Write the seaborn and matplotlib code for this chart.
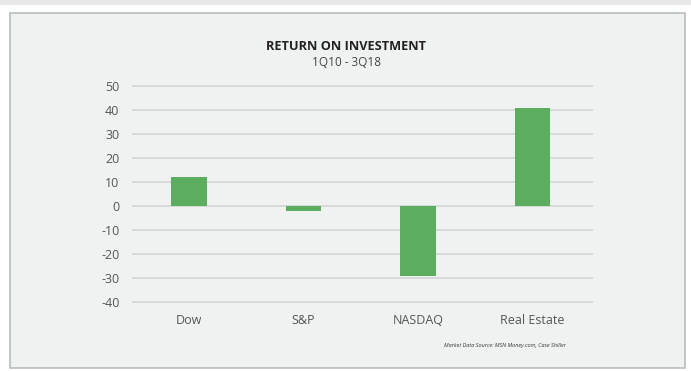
import matplotlib
matplotlib.use("Agg")
import matplotlib.pyplot as plt
import seaborn as sns
import pandas as pd
from matplotlib.patches import Rectangle

categories = ["Dow", "S&P", "NASDAQ", "Real Estate"]
returns = [12, -2, -29.3, 41]
yticks = [-40, -30, -20, -10, 0, 10, 20, 30, 40, 50]

df = pd.DataFrame({"category": categories, "value": returns})

sns.set_theme(style="white")
plt.rcParams["font.family"] = ["Open Sans", "DejaVu Sans"]

bg = "#f0f2f2"
fig = plt.figure(figsize=(6.91, 3.71), dpi=100, facecolor="white")

# frame / panel
fig.patches.append(Rectangle((10/691, 1 - 368/371), (685-10)/691, (368-13)/371,
                             transform=fig.transFigure, facecolor=bg,
                             edgecolor="#b8bcbc", linewidth=1.2, zorder=-2))
fig.patches.append(Rectangle((0, 1 - 5/371), 1, 5/371, transform=fig.transFigure,
                             facecolor="#e6e8e8", edgecolor="none", zorder=-2))

ax = fig.add_axes([132/691, 1 - 303/371, (593-132)/691, (303-85)/371])
ax.set_zorder(2)
ax.set_facecolor(bg)
ax.patch.set_alpha(0)

sns.barplot(data=df, x="category", y="value", color="#5cad5f", width=0.31,
            saturation=1, linewidth=0, ax=ax, zorder=3)

ax.set_yticks(yticks)
ax.set_yticklabels([str(t) for t in yticks])
ax.yaxis.grid(True, color="#d6d8d8", linewidth=1.3)
ax.set_axisbelow(True)
for s in ax.spines.values():
    s.set_visible(False)
ax.tick_params(axis="both", length=0, labelsize=9, colors="#555555")
ax.tick_params(axis="y", pad=9)
ax.tick_params(axis="x", pad=8)
ax.set_xlabel("")
ax.set_ylabel("")
ax.set_xlim(-0.5, 3.53)
ax.set_ylim(-40.6, 50.6)

fig.text(346/691, 1 - 47/371, "RETURN ON INVESTMENT", ha="center", va="center",
         fontsize=9.2, fontweight="bold", color="#222222")
fig.text(346/691, 1 - 62/371, "1Q10 - 3Q18", ha="center", va="center",
         fontsize=8.5, color="#444444")
fig.text(505/691, 1 - 345/371, "Market Data Source: MSN Money.com, Case Shiller",
         ha="center", va="center", fontsize=4, style="italic", color="#333333")

fig.savefig("out.png", dpi=100, facecolor="white")
